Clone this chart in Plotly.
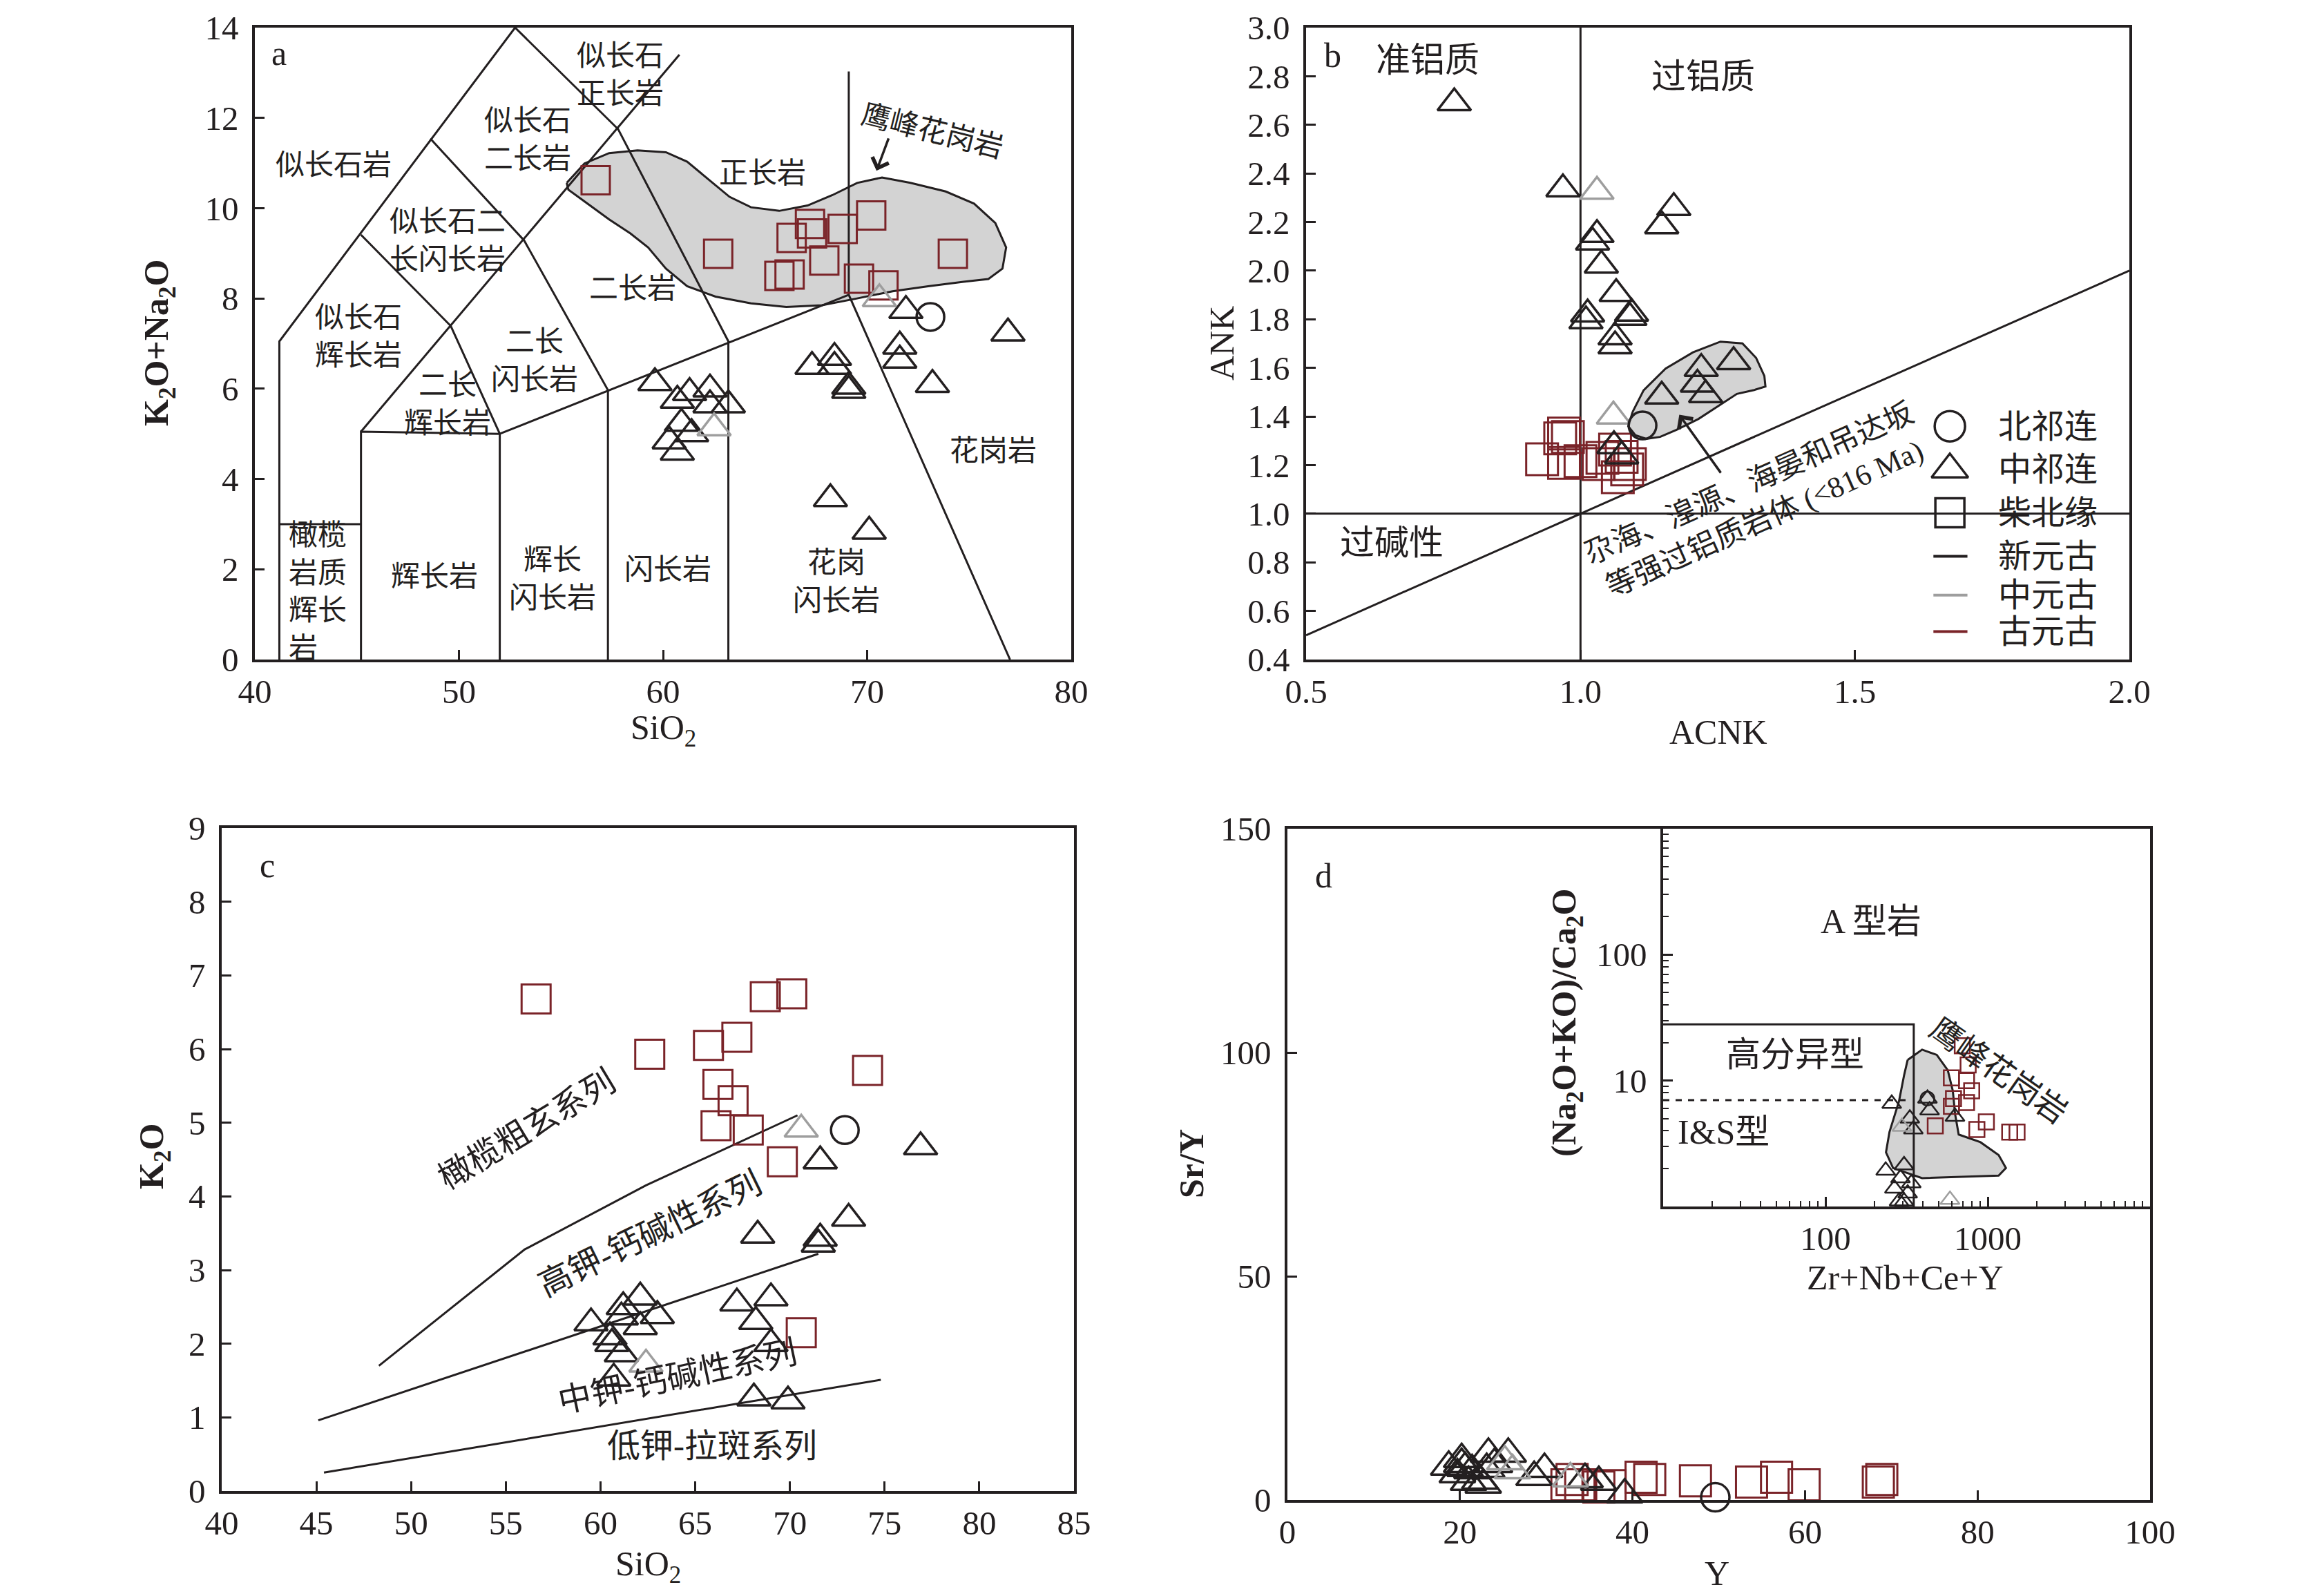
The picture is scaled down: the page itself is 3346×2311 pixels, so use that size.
import math
import plotly.graph_objects as go

W, H = 3346, 2311
OFF = 8  # page body margin of the rendered html page
BLACK = '#231f20'
GRAY = '#9e9e9e'
RED = '#7a2328'
FILL = '#d3d3d3'
FONT = 'Liberation Serif, Noto Sans CJK SC, serif'

# ---------------- panel a : TAS ----------------
a_sq_x = [56.7, 62.7, 66.3, 67.2, 67.3, 68.8, 70.2, 65.7, 66.2, 67.9, 69.6, 70.8, 74.2]
a_sq_y = [10.62, 8.99, 9.34, 9.65, 9.44, 9.54, 9.84, 8.50, 8.53, 8.84, 8.44, 8.29, 8.99]
a_tri_x = [59.6, 60.7, 61.3, 62.3, 62.3, 63.2, 60.9, 61.4, 60.3, 60.7, 67.3, 68.4, 68.4,
           69.1, 69.1, 71.9, 71.6, 71.6, 73.2, 76.9, 68.2, 70.1]
a_tri_y = [6.13, 5.74, 5.91, 5.99, 5.64, 5.64, 5.23, 5.00, 4.84, 4.59, 6.49, 6.69, 6.49,
           5.96, 6.05, 7.73, 6.94, 6.63, 6.09, 7.23, 3.56, 2.84]
a_gtri_x = [62.5, 70.6]
a_gtri_y = [5.13, 7.99]
a_cir_x = [73.1]
a_cir_y = [7.59]
# field boundaries (polylines)
a_bounds = [
    ([41.2, 41.2, 52.75], [0, 7.05, 14.0]),
    ([41.2, 45.2], [3.0, 3.0]),
    ([45.2, 45.2, 52.0, 52.0], [0, 5.05, 5.0, 0]),
    ([45.2, 60.8], [5.05, 13.4]),
    ([45.2, 49.6, 52.0], [9.41, 7.39, 5.0]),
    ([48.6, 53.2, 57.3, 57.3], [11.54, 9.28, 5.97, 0]),
    ([52.75, 57.8, 63.2, 63.2], [14.0, 11.75, 7.05, 0]),
    ([52.0, 69.1], [5.0, 8.08]),
    ([69.1, 69.1, 77.0], [13.03, 8.08, 0]),
]
# Yingfeng granite field
a_fld_x = [55.28, 56.15, 57.36, 58.75, 60.14, 61.18, 62.22, 63.26, 64.31, 65.69, 67.08, 68.30,
           69.51, 70.73, 72.12, 73.85, 75.24, 76.28, 76.81, 76.63, 75.94, 74.72, 72.99, 71.25,
           69.51, 67.78, 66.04, 64.31, 62.57, 61.18, 60.14, 59.27, 58.40, 57.36, 55.97, 55.36, 55.28]
a_fld_y = [10.56, 10.99, 11.22, 11.28, 11.24, 11.03, 10.64, 10.25, 10.02, 9.94, 10.06, 10.29,
           10.56, 10.68, 10.56, 10.37, 10.10, 9.67, 9.13, 8.66, 8.43, 8.37, 8.27, 8.16,
           8.00, 7.85, 7.81, 7.89, 8.04, 8.27, 8.66, 9.13, 9.44, 9.75, 10.21, 10.41, 10.56]
a_labels = [
    ('似长石岩', 43.85, 10.95), ('似长石<br>正长岩', 57.9, 12.95), ('似长石<br>二长岩', 53.36, 11.52),
    ('似长石二<br>长闪长岩', 49.44, 9.28), ('似长石<br>辉长岩', 45.06, 7.15), ('二长<br>辉长岩', 49.44, 5.66),
    ('二长<br>闪长岩', 53.7, 6.62), ('二长岩', 58.5, 8.22), ('正长岩', 64.87, 10.77),
    ('花岗岩', 76.16, 4.62), ('花岗<br>闪长岩', 68.5, 1.72), ('闪长岩', 60.24, 1.99),
    ('辉长<br>闪长岩', 54.6, 1.78), ('辉长岩', 48.8, 1.83),
]

# ---------------- panel b : ACNK-ANK ----------------
b_tri_x = [0.77, 0.968, 1.17, 1.148, 1.03, 1.022, 1.038, 1.065, 1.093, 1.09, 1.013, 1.01,
           1.063, 1.063, 1.148, 1.22, 1.213, 1.228, 1.279, 1.061, 1.075]
b_tri_y = [2.69, 2.336, 2.259, 2.184, 2.148, 2.117, 2.022, 1.905, 1.824, 1.807, 1.821, 1.793,
           1.727, 1.69, 1.483, 1.597, 1.532, 1.489, 1.625, 1.279, 1.237]
b_gtri_x = [1.03, 1.06]
b_gtri_y = [2.326, 1.401]
b_cir_x = [1.113]
b_cir_y = [1.363]
b_sq_x = [0.97, 0.977, 0.963, 0.93, 0.97, 1.0, 1.033, 1.063, 1.075, 1.09, 1.068, 1.04, 1.085]
b_sq_y = [1.330, 1.316, 1.310, 1.224, 1.209, 1.216, 1.204, 1.264, 1.234, 1.204, 1.15, 1.23, 1.182]
b_fld_x = [1.095, 1.115, 1.155, 1.205, 1.255, 1.295, 1.32, 1.335, 1.337, 1.315, 1.285, 1.255,
           1.215, 1.175, 1.145, 1.12, 1.10, 1.087, 1.095]
b_fld_y = [1.419, 1.508, 1.597, 1.664, 1.708, 1.701, 1.641, 1.567, 1.523, 1.508, 1.493, 1.449,
           1.39, 1.345, 1.316, 1.308, 1.323, 1.36, 1.419]
b_legend_names = ['北祁连', '中祁连', '柴北缘', '新元古', '中元古', '古元古']
b_legend_y = [1.36, 1.182, 1.004, 0.825, 0.665, 0.515]

# ---------------- panel c : SiO2-K2O ----------------
c_sq_x = [56.6, 62.6, 65.7, 67.2, 68.7, 70.1, 66.2, 67.0, 66.1, 67.8, 69.6, 74.1, 70.6]
c_sq_y = [6.68, 5.93, 6.05, 6.16, 6.71, 6.75, 5.52, 5.30, 4.96, 4.90, 4.47, 5.71, 2.15]
c_tri_x = [71.6, 76.9, 73.1, 68.3, 71.6, 71.5, 62.1, 61.2, 63.0, 59.5, 61.1, 62.1, 60.5,
           60.6, 61.1, 60.7, 67.2, 69.0, 68.2, 69.0, 68.1, 69.9]
c_tri_y = [4.48, 4.67, 3.70, 3.47, 3.43, 3.35, 2.63, 2.50, 2.38, 2.28, 2.36, 2.23, 2.09,
           2.00, 1.86, 1.53, 2.55, 2.62, 2.30, 2.00, 1.26, 1.22]
c_gtri_x = [70.6, 62.4]
c_gtri_y = [4.91, 1.72]
c_cir_x = [72.9]
c_cir_y = [4.90]
c_l1_x = [48.3, 56.0, 62.4, 70.4]
c_l1_y = [1.70, 3.28, 4.15, 5.10]
c_l2_x = [45.1, 71.5]
c_l2_y = [0.96, 3.22]
c_l3_x = [45.4, 74.8]
c_l3_y = [0.25, 1.51]

# ---------------- panel d : Y - Sr/Y ----------------
d_tri_x = [18.7, 20.2, 20.6, 19.7, 21.4, 22.3, 23.3, 25.6, 23.1, 21.0, 22.7, 28.6, 29.8,
           34.5, 36.1, 39.1, 20.2, 24.0]
d_tri_y = [7.4, 9.1, 7.1, 5.7, 6.6, 4.3, 10.3, 10.3, 6.9, 4.0, 3.4, 5.1, 6.9,
           4.6, 4.0, 1.2, 8.0, 8.0]
d_gtri_x = [25.2, 26.1, 32.8]
d_gtri_y = [8.6, 6.6, 4.8]
d_sq_x = [33.0, 34.0, 36.1, 37.4, 41.0, 42.0, 47.3, 53.8, 56.7, 59.9, 68.9, 68.5, 32.4]
d_sq_y = [4.6, 3.4, 2.9, 3.2, 5.1, 4.6, 4.3, 4.0, 5.1, 3.4, 4.6, 4.0, 3.4]
d_cir_x = [49.6]
d_cir_y = [0.6]
# inset (log-log)
i_sq_x = [697, 757, 597, 740, 796, 615, 740, 597, 475, 980, 857, 1365, 1515]
i_sq_y = [18.9, 13.3, 10.5, 10.0, 8.3, 7.2, 6.7, 6.25, 4.37, 4.7, 4.09, 3.9, 3.9]
i_tri_x = [256, 331, 348, 438, 628, 235, 290, 305, 266, 321, 284, 338, 305, 425]
i_tri_y = [6.55, 5.0, 4.1, 5.8, 5.17, 1.93, 1.68, 2.13, 1.39, 1.27, 1.1, 1.53, 1.1, 7.2]
i_gtri_x = [296, 585]
i_gtri_y = [4.3, 1.13]
i_cir_x = [425]
i_cir_y = [7.2]
i_fld_x = [321, 394, 485, 567, 609, 629, 662, 902, 1167, 1294, 1167, 662, 394, 261, 236, 248, 284, 305, 321]
i_fld_y = [14.6, 17.6, 16.0, 12.1, 8.3, 5.43, 3.73, 3.24, 2.56, 2.02, 1.76, 1.71, 1.68, 2.02, 2.69, 3.91, 6.87, 11.0, 14.6]
i_box_x = [10, 350, 350]
i_box_y = [28, 28, 1]
i_dash_x = [10, 340]
i_dash_y = [7, 7]

fig = go.Figure()


def line(xs, ys, xa, ya, color=BLACK, width=3, dash='solid', fill=None):
    fig.add_trace(go.Scatter(x=xs, y=ys, xaxis=xa, yaxis=ya, mode='lines',
                             line=dict(color=color, width=width, dash=dash),
                             fill=fill, fillcolor=FILL if fill else None,
                             showlegend=False, hoverinfo='skip'))


def marks(xs, ys, xa, ya, symbol, color, size, width=3.5):
    fig.add_trace(go.Scatter(x=xs, y=ys, xaxis=xa, yaxis=ya, mode='markers',
                             marker=dict(symbol=symbol, size=size, color='rgba(0,0,0,0)',
                                         line=dict(color=color, width=width)),
                             cliponaxis=False, showlegend=False, hoverinfo='skip'))


ann = []


def text(t, x, y, xr, yr, size=42, angle=0, align='center', xanchor='center'):
    ann.append(dict(text=t, x=x, y=y, xref=xr, yref=yr, showarrow=False, textangle=angle,
                    align=align, xanchor=xanchor, yanchor='middle',
                    font=dict(family=FONT, size=size, color=BLACK)))


TRI = 42

# ---- panel a
line(a_fld_x, a_fld_y, 'x', 'y', fill='toself')
for bx, by in a_bounds:
    line(bx, by, 'x', 'y')
marks(a_sq_x, a_sq_y, 'x', 'y', 'square', RED, 41, 3)
marks(a_tri_x, a_tri_y, 'x', 'y', 'triangle-up', BLACK, TRI)
marks(a_gtri_x, a_gtri_y, 'x', 'y', 'triangle-up', GRAY, TRI)
marks(a_cir_x, a_cir_y, 'x', 'y', 'circle', BLACK, 40)
for t, x, y in a_labels:
    text(t, x, y, 'x', 'y', 42)
text('橄榄<br>岩质<br>辉长<br>岩', 41.6, 1.5, 'x', 'y', 42, align='left', xanchor='left')
text('鹰峰花岗岩', 73.2, 11.71, 'x', 'y', 42, angle=14)
text('a', 41.2, 13.43, 'x', 'y', 50)
ann.append(dict(x=70.46, y=10.83, ax=71.07, ay=11.57, xref='x', yref='y', axref='x', ayref='y',
                showarrow=True, arrowhead=4, arrowsize=1.4, arrowwidth=3.5, arrowcolor=BLACK, text=''))

# ---- panel b
line([1.0, 1.0], [0.4, 3.0], 'x2', 'y2')
line([0.5, 2.0], [1.0, 1.0], 'x2', 'y2')
line([0.5, 2.0], [0.5, 2.0], 'x2', 'y2')
line(b_fld_x, b_fld_y, 'x2', 'y2', fill='toself')
marks(b_sq_x, b_sq_y, 'x2', 'y2', 'square', RED, 46, 3)
marks(b_tri_x, b_tri_y, 'x2', 'y2', 'triangle-up', BLACK, TRI)
marks(b_gtri_x, b_gtri_y, 'x2', 'y2', 'triangle-up', GRAY, TRI)
marks(b_cir_x, b_cir_y, 'x2', 'y2', 'circle', BLACK, 40)
# legend
marks([1.673], [b_legend_y[0]], 'x2', 'y2', 'circle', BLACK, 44)
marks([1.673], [b_legend_y[1]], 'x2', 'y2', 'triangle-up', BLACK, 46)
marks([1.673], [b_legend_y[2]], 'x2', 'y2', 'square', BLACK, 42)
for yy, cc in zip(b_legend_y[3:], [BLACK, GRAY, RED]):
    line([1.643, 1.705], [yy, yy], 'x2', 'y2', color=cc, width=4)
for nm, yy in zip(b_legend_names, b_legend_y):
    text(nm, 1.759, yy, 'x2', 'y2', 48, xanchor='left')
text('b', 0.548, 2.886, 'x2', 'y2', 50)
text('准铝质', 0.722, 2.866, 'x2', 'y2', 50)
text('过铝质', 1.224, 2.797, 'x2', 'y2', 50)
text('过碱性', 0.656, 0.881, 'x2', 'y2', 50)
text('尕海、湟源、海晏和吊达坂<br>等强过铝质岩体 (&lt;816 Ma)', 1.322, 1.05, 'x2', 'y2', 43, angle=-24)
ann.append(dict(x=1.18, y=1.407, ax=1.257, ay=1.164, xref='x2', yref='y2', axref='x2', ayref='y2',
                showarrow=True, arrowhead=4, arrowsize=1.4, arrowwidth=3.5, arrowcolor=BLACK, text=''))

# ---- panel c
line(c_l1_x, c_l1_y, 'x3', 'y3')
line(c_l2_x, c_l2_y, 'x3', 'y3')
line(c_l3_x, c_l3_y, 'x3', 'y3')
marks(c_sq_x, c_sq_y, 'x3', 'y3', 'square', RED, 42, 3)
marks(c_tri_x, c_tri_y, 'x3', 'y3', 'triangle-up', BLACK, TRI)
marks(c_gtri_x, c_gtri_y, 'x3', 'y3', 'triangle-up', GRAY, TRI)
marks(c_cir_x, c_cir_y, 'x3', 'y3', 'circle', BLACK, 40)
text('c', 42.4, 8.49, 'x3', 'y3', 50)
text('橄榄粗玄系列', 56.1, 4.91, 'x3', 'y3', 48, angle=-31)
text('高钾-钙碱性系列', 62.6, 3.49, 'x3', 'y3', 48, angle=-26)
text('中钾-钙碱性系列', 64.05, 1.55, 'x3', 'y3', 48, angle=-12)
text('低钾-拉斑系列', 65.9, 0.61, 'x3', 'y3', 48)

# ---- panel d
marks(d_sq_x, d_sq_y, 'x4', 'y4', 'square', RED, 45, 3)
marks(d_tri_x, d_tri_y, 'x4', 'y4', 'triangle-up', BLACK, 45)
marks(d_gtri_x, d_gtri_y, 'x4', 'y4', 'triangle-up', GRAY, 45)
marks(d_cir_x, d_cir_y, 'x4', 'y4', 'circle', BLACK, 41)
text('d', 4.2, 139.5, 'x4', 'y4', 50)

# ---- inset
line(i_fld_x, i_fld_y, 'x5', 'y5', fill='toself')
line(i_box_x, i_box_y, 'x5', 'y5')
line(i_dash_x, i_dash_y, 'x5', 'y5', dash='dash')
marks(i_sq_x, i_sq_y, 'x5', 'y5', 'square', RED, 22, 2.5)
marks(i_tri_x, i_tri_y, 'x5', 'y5', 'triangle-up', BLACK, 24, 2.5)
marks(i_gtri_x, i_gtri_y, 'x5', 'y5', 'triangle-up', GRAY, 24, 2.5)
marks(i_cir_x, i_cir_y, 'x5', 'y5', 'circle', BLACK, 20, 2.5)
text('A 型岩', math.log10(190), math.log10(184), 'x5', 'y5', 50)
text('高分异型', math.log10(65), math.log10(16), 'x5', 'y5', 50)
text('I&amp;S型', math.log10(23.6), math.log10(3.9), 'x5', 'y5', 50)
text('鹰峰花岗岩', 3.067, 1.08, 'x5', 'y5', 46, angle=35)


def px(v):
    return (v - OFF) / W


def py(v):
    return 1 - (v - OFF) / H


# axis titles (paper coords)
def title(t, x, y, angle=0, bold=False):
    if bold:
        t = '<b>' + t + '</b>'
    ann.append(dict(text=t, x=px(x), y=py(y), xref='paper', yref='paper', showarrow=False,
                    textangle=angle, xanchor='center', yanchor='middle',
                    font=dict(family=FONT, size=50, color=BLACK)))


title('K<sub>2</sub>O+Na<sub>2</sub>O', 230, 497, -90, True)
title('SiO<sub>2</sub>', 960, 1057)
title('ANK', 1769, 497, -90)
title('ACNK', 2488, 1060)
title('K<sub>2</sub>O', 223, 1674, -90, True)
title('SiO<sub>2</sub>', 938, 2268)
title('Sr/Y', 1725, 1685, -90, True)
title('Y', 2486, 2278)
title('(Na<sub>2</sub>O+KO)/Ca<sub>2</sub>O', 2268, 1481, -90, True)
title('Zr+Nb+Ce+Y', 2758, 1850)

tickfont = dict(family=FONT, size=49, color=BLACK)


def ax(domain, rng, **kw):
    d = dict(domain=domain, range=rng, showline=True, linecolor=BLACK, linewidth=3.5,
             mirror=True, ticks='inside', ticklen=14, tickwidth=3, tickcolor=BLACK,
             showgrid=False, zeroline=False, tickfont=tickfont, automargin=False,
             ticklabeloverflow='allow')
    d.update(kw)
    return d


A_X = [px(369), px(1551)]
A_Y = [py(955), py(40)]
B_X = [px(1891), px(3083)]
C_X = [px(321), px(1555)]
C_Y = [py(2159), py(1199)]
D_X = [px(1864), px(3113)]
D_Y = [py(2172), py(1200)]
I_X = [px(2408), px(3113)]
I_Y = [py(1747), py(1200)]

b_xt = [0.5, 1.0, 1.5, 2.0]
b_yt = [0.4 + 0.2 * i for i in range(14)]
minor_x = [m * 10 ** e for e in range(1, 4) for m in range(2, 10)]
minor_y = [m * 10 ** e for e in range(0, 3) for m in range(2, 10)]

XS = 0  # x tick label standoff
YS = 10

fig.update_layout(
    width=W, height=H, margin=dict(l=0, r=0, t=0, b=0, pad=0, autoexpand=False),
    autosize=False,
    paper_bgcolor='white', plot_bgcolor='white', showlegend=False,
    font=dict(family=FONT, color=BLACK),
    xaxis=ax(A_X, [40, 80], anchor='y', tick0=40, dtick=10, ticklabelstandoff=XS),
    yaxis=ax(A_Y, [0, 14], anchor='x', tick0=0, dtick=2, ticklabelstandoff=YS),
    xaxis2=ax(B_X, [0.5, 2.0], anchor='y2', tickvals=b_xt, ticktext=['%.1f' % v for v in b_xt],
              ticklabelstandoff=XS),
    yaxis2=ax(A_Y, [0.4, 3.0], anchor='x2', tickvals=b_yt, ticktext=['%.1f' % v for v in b_yt],
              ticklabelstandoff=YS),
    xaxis3=ax(C_X, [40, 85], anchor='y3', tick0=40, dtick=5, ticklabelstandoff=XS),
    yaxis3=ax(C_Y, [0, 9], anchor='x3', tick0=0, dtick=1, ticklabelstandoff=YS),
    xaxis4=ax(D_X, [0, 100], anchor='y4', tick0=0, dtick=20, ticklabelstandoff=XS),
    yaxis4=ax(D_Y, [0, 150], anchor='x4', tick0=0, dtick=50, ticklabelstandoff=YS),
    xaxis5=ax(I_X, [1, 4], anchor='y5', type='log', tickvals=[100, 1000],
              ticktext=['100', '1000'], ticklen=14, ticklabelstandoff=XS,
              minor=dict(tickvals=minor_x, ticks='inside', ticklen=8, tickwidth=2, tickcolor=BLACK)),
    yaxis5=ax(I_Y, [0, 3], anchor='x5', type='log', tickvals=[10, 100],
              ticktext=['10', '100'], ticklen=14, ticklabelstandoff=YS,
              minor=dict(tickvals=minor_y, ticks='inside', ticklen=8, tickwidth=2, tickcolor=BLACK)),
    annotations=ann,
)

fig.write_html('out.html')
